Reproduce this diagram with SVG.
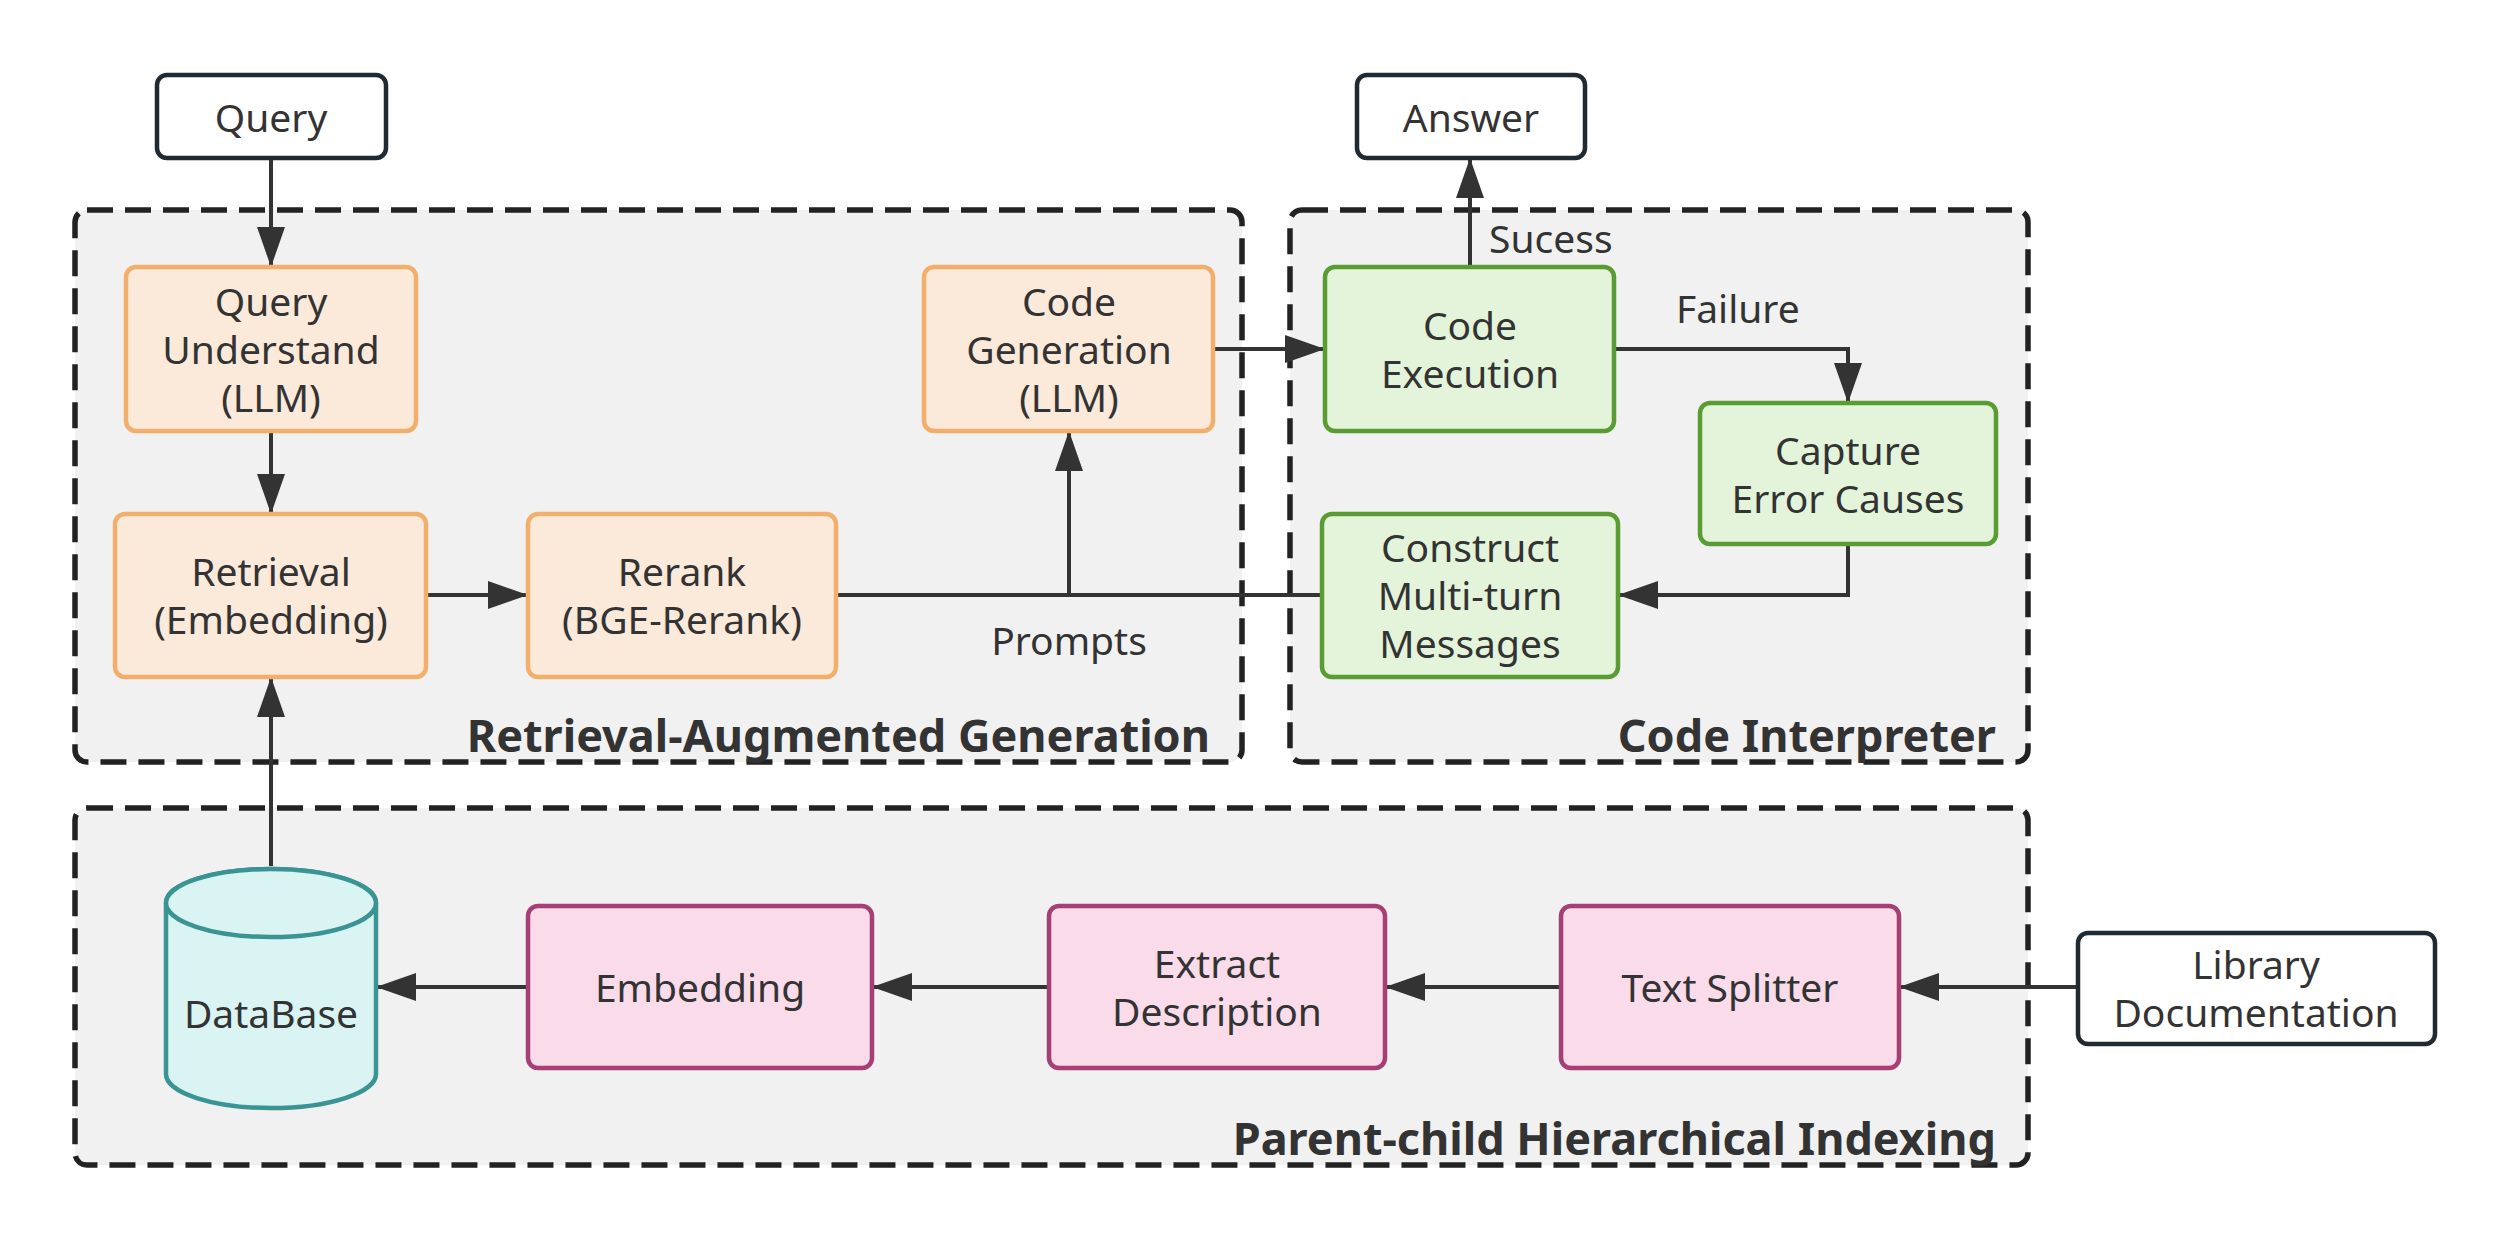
<svg xmlns="http://www.w3.org/2000/svg" width="2510" height="1240" viewBox="0 0 2510 1240">
<defs>
<style>
.grp{fill:#f1f1f1;stroke:#222;stroke-width:5.5;stroke-dasharray:26 12}
.glabel{font-family:"Noto Sans","Open Sans",sans-serif;font-weight:bold;font-size:45px;fill:#333;text-anchor:end}
.t{font-family:"Noto Sans","Open Sans",sans-serif;font-size:39px;fill:#333;text-anchor:middle}
.el{font-family:"Noto Sans","Open Sans",sans-serif;font-size:39px;fill:#333}
.io{fill:#fff;stroke:#1f2a33;stroke-width:4.5}
.or{fill:#fbe9da;stroke:#f2ae6b;stroke-width:4.5}
.gr{fill:#e3f4da;stroke:#589c33;stroke-width:4.5}
.pk{fill:#f9dbea;stroke:#a53f74;stroke-width:4.5}
.db{fill:#daf4f3;stroke:#3a9494;stroke-width:4.5}
.c{fill:none;stroke:#333;stroke-width:4}
</style>
<marker id="ah" markerUnits="userSpaceOnUse" markerWidth="42" markerHeight="30" refX="40" refY="14" orient="auto">
<path d="M0,0 L40,14 L0,28 z" fill="#333"/>
</marker>
</defs>
<rect width="2510" height="1240" fill="#fff"/>

<g id="group-rag">
<rect class="grp" x="75" y="210" width="1167" height="552" rx="12"/>
<text class="glabel" x="1210" y="752">Retrieval-Augmented Generation</text>
</g>
<g id="group-ci">
<rect class="grp" x="1290" y="210" width="738" height="552" rx="12"/>
<text class="glabel" x="1996" y="752">Code Interpreter</text>
</g>
<g id="group-idx">
<rect class="grp" x="75" y="808" width="1953" height="357" rx="12"/>
<text class="glabel" x="1996" y="1155">Parent-child Hierarchical Indexing</text>
</g>

<g id="connectors">
<line class="c" x1="271" y1="158" x2="271" y2="267" marker-end="url(#ah)"/>
<line class="c" x1="271" y1="431" x2="271" y2="514" marker-end="url(#ah)"/>
<line class="c" x1="426" y1="595" x2="528" y2="595" marker-end="url(#ah)"/>
<line class="c" x1="836" y1="595" x2="1322" y2="595"/>
<line class="c" x1="1069" y1="595" x2="1069" y2="431" marker-end="url(#ah)"/>
<line class="c" x1="1213" y1="349" x2="1325" y2="349" marker-end="url(#ah)"/>
<line class="c" x1="1470" y1="267" x2="1470" y2="158" marker-end="url(#ah)"/>
<polyline class="c" points="1614,349 1848,349 1848,403" marker-end="url(#ah)"/>
<polyline class="c" points="1848,544 1848,595 1618,595" marker-end="url(#ah)"/>
<line class="c" x1="271" y1="866" x2="271" y2="677" marker-end="url(#ah)"/>
<line class="c" x1="528" y1="987" x2="376" y2="987" marker-end="url(#ah)"/>
<line class="c" x1="1049" y1="987" x2="872" y2="987" marker-end="url(#ah)"/>
<line class="c" x1="1561" y1="987" x2="1385" y2="987" marker-end="url(#ah)"/>
<line class="c" x1="2078" y1="987" x2="1899" y2="987" marker-end="url(#ah)"/>
<text class="el" x="1069" y="655" text-anchor="middle">Prompts</text>
<text class="el" x="1489" y="253">Sucess</text>
<text class="el" x="1676" y="323">Failure</text>
</g>

<g id="node-query">
<rect class="io" x="157" y="75" width="229" height="83" rx="10"/>
<text class="t" x="271" y="132">Query</text>
</g>
<g id="node-answer">
<rect class="io" x="1357" y="75" width="228" height="83" rx="10"/>
<text class="t" x="1471" y="132">Answer</text>
</g>
<g id="node-query-understand">
<rect class="or" x="126" y="267" width="290" height="164" rx="10"/>
<text class="t" x="271" y="316">Query</text>
<text class="t" x="271" y="364">Understand</text>
<text class="t" x="271" y="412">(LLM)</text>
</g>
<g id="node-retrieval">
<rect class="or" x="115" y="514" width="311" height="163" rx="10"/>
<text class="t" x="271" y="586">Retrieval</text>
<text class="t" x="271" y="634">(Embedding)</text>
</g>
<g id="node-rerank">
<rect class="or" x="528" y="514" width="308" height="163" rx="10"/>
<text class="t" x="682" y="586">Rerank</text>
<text class="t" x="682" y="634">(BGE-Rerank)</text>
</g>
<g id="node-code-generation">
<rect class="or" x="924" y="267" width="289" height="164" rx="10"/>
<text class="t" x="1069" y="316">Code</text>
<text class="t" x="1069" y="364">Generation</text>
<text class="t" x="1069" y="412">(LLM)</text>
</g>
<g id="node-code-execution">
<rect class="gr" x="1325" y="267" width="289" height="164" rx="10"/>
<text class="t" x="1470" y="340">Code</text>
<text class="t" x="1470" y="388">Execution</text>
</g>
<g id="node-capture">
<rect class="gr" x="1700" y="403" width="296" height="141" rx="10"/>
<text class="t" x="1848" y="465">Capture</text>
<text class="t" x="1848" y="513">Error Causes</text>
</g>
<g id="node-construct">
<rect class="gr" x="1322" y="514" width="296" height="163" rx="10"/>
<text class="t" x="1470" y="562">Construct</text>
<text class="t" x="1470" y="610">Multi-turn</text>
<text class="t" x="1470" y="658">Messages</text>
</g>
<g id="node-database">
<path class="db" d="M166,903 L166,1074 A105,34 0 0 0 376,1074 L376,903 A105,34 0 0 0 166,903 Z"/>
<ellipse class="db" cx="271" cy="903" rx="105" ry="34"/>
<text class="t" x="271" y="1028">DataBase</text>
</g>
<g id="node-embedding">
<rect class="pk" x="528" y="906" width="344" height="162" rx="10"/>
<text class="t" x="700" y="1002">Embedding</text>
</g>
<g id="node-extract">
<rect class="pk" x="1049" y="906" width="336" height="162" rx="10"/>
<text class="t" x="1217" y="978">Extract</text>
<text class="t" x="1217" y="1026">Description</text>
</g>
<g id="node-text-splitter">
<rect class="pk" x="1561" y="906" width="338" height="162" rx="10"/>
<text class="t" x="1730" y="1002">Text Splitter</text>
</g>
<g id="node-library">
<rect class="io" x="2078" y="933" width="357" height="111" rx="10"/>
<text class="t" x="2256" y="979">Library</text>
<text class="t" x="2256" y="1027">Documentation</text>
</g>
</svg>
